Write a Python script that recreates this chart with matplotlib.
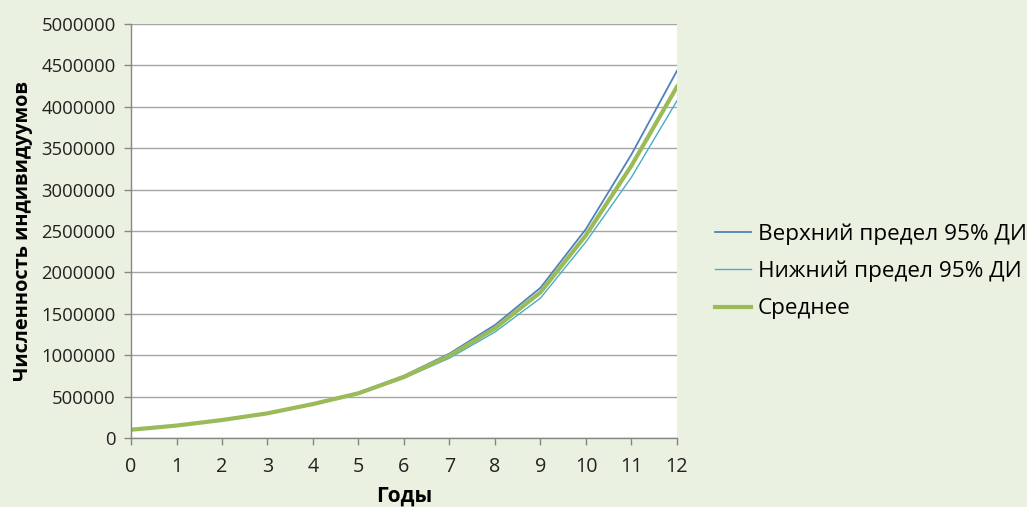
import matplotlib
matplotlib.use("Agg")
import matplotlib.pyplot as plt
from matplotlib.ticker import MultipleLocator, FormatStrFormatter

plt.rcParams["font.family"] = ["Open Sans", "DejaVu Sans"]

years = list(range(13))
upper = [100000, 151000, 220000, 302000, 415000, 548000, 752000, 1020000,
         1365000, 1815000, 2525000, 3426000, 4436000]
lower = [100000, 149000, 214000, 293000, 403000, 530000, 722000, 965000,
         1280000, 1690000, 2370000, 3150000, 4074000]
mean = [100000, 150000, 217000, 298000, 410000, 540000, 738000, 995000,
        1325000, 1760000, 2450000, 3290000, 4243000]

labels = ["Верхний предел 95% ДИ", "Нижний предел 95% ДИ", "Среднее"]

bg = "#EBF1E0"
grid_col = "#A6A6A6"

fig = plt.figure(figsize=(10.27, 5.07), dpi=100, facecolor=bg)
ax = fig.add_axes([131 / 1027, 69 / 507, 546 / 1027, 414 / 507])
ax.set_facecolor("white")

ax.plot(years, upper, color="#4F81BD", lw=1.3, label=labels[0])
ax.plot(years, lower, color="#4BACC6", lw=1.0, label=labels[1])
ax.plot(years, mean, color="#9BBB59", lw=3.0, label=labels[2])

ax.set_xlim(0, 12)
ax.set_ylim(0, 5000000)
ax.xaxis.set_major_locator(MultipleLocator(1))
ax.yaxis.set_major_locator(MultipleLocator(500000))
ax.yaxis.set_major_formatter(FormatStrFormatter("%d"))
ax.grid(axis="y", color=grid_col, lw=1.0)
ax.set_axisbelow(True)

for side in ["top", "right"]:
    ax.spines[side].set_visible(False)
for side in ["left", "bottom"]:
    ax.spines[side].set_color("#868686")
    ax.spines[side].set_linewidth(1.0)

ax.tick_params(axis="both", colors="#868686", length=5, width=1.0,
               labelcolor="#222222")
ax.tick_params(axis="y", labelsize=13.3, pad=6)
ax.tick_params(axis="x", labelsize=14.2, pad=8.5)

ax.set_xlabel("Годы", fontsize=15, fontweight="bold", labelpad=6)
ax.set_ylabel("Численность индивидуумов", fontsize=14.3, fontweight="bold", labelpad=6)

fig.legend(loc="upper left", bbox_to_anchor=(0.696, 0.560), frameon=False,
           fontsize=16.2, handlelength=1.6, handletextpad=0.3, labelspacing=0.72,
           borderaxespad=0, borderpad=0)

fig.savefig("out.png", dpi=100, facecolor=bg)
